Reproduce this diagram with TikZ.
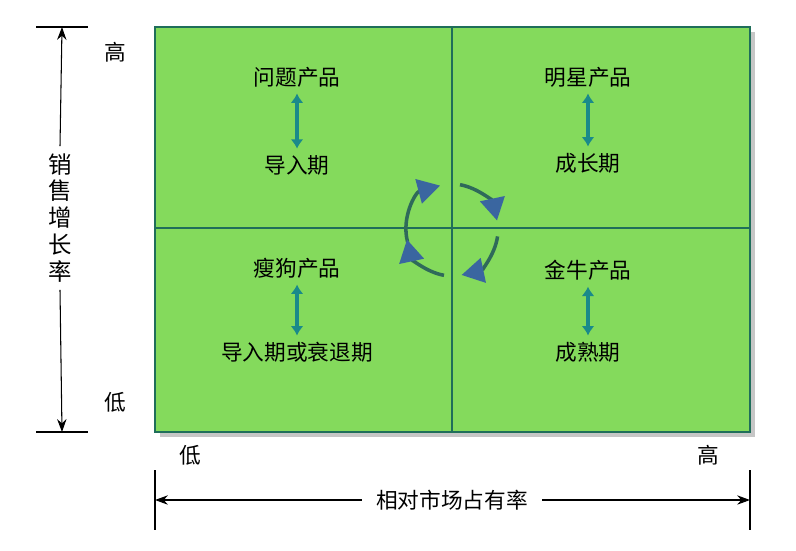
\documentclass[tikz,border=0pt]{standalone}
\usepackage{fontspec}
\newfontfamily\cjk{Noto Sans CJK SC}
\usetikzlibrary{arrows.meta,calc}
\definecolor{boxgreen}{HTML}{84DA5C}
\definecolor{boxline}{HTML}{1F6E5A}
\definecolor{cyclecol}{HTML}{2F6A5A}
\definecolor{headcol}{HTML}{3A66A0}
\definecolor{twoway}{HTML}{1A8A8A}
\tikzset{
  lbl/.style={font=\cjk\fontsize{18.5}{21}\selectfont},
  swap/.style={{Latex[length=8pt,width=11pt]}-{Latex[length=8pt,width=11pt]}, twoway, line width=3.5pt, shorten <=2pt, shorten >=2pt},
  axis/.style={-{Stealth[length=11pt,width=8pt]}, line width=0.9pt},
  cyc/.style={cyclecol, line width=3pt, -{Triangle[length=19pt,width=21pt,color=headcol]}}
}
\begin{document}
\begin{tikzpicture}[x=0.03cm,y=-0.03cm]
	\useasboundingbox (0,0) rectangle (796,550);
	%% matrix
	\fill[gray!45] (160,32) rectangle (755,437);
	\draw[boxline,fill=boxgreen,line width=1pt] (155,27) rectangle (750,432);
	\draw[boxline,line width=1.2pt] (452,27) -- (452,432);
	\draw[boxline,line width=1.2pt] (155,228) -- (750,228);
	%% quadrant texts
	\node[lbl] (q1) at (297,77) {问题产品};
	\node[lbl] (q1b) at (297,165) {导入期};
	\node[lbl] (q2) at (588,77) {明星产品};
	\node[lbl] (q2b) at (588,163) {成长期};
	\node[lbl] (q3) at (297,268) {瘦狗产品};
	\node[lbl] (q3b) at (297,352) {导入期或衰退期};
	\node[lbl] (q4) at (588,270) {金牛产品};
	\node[lbl] (q4b) at (588,352) {成熟期};
	\foreach \a/\b in {q1/q1b,q2/q2b,q3/q3b,q4/q4b}
		\draw[swap] (\a.south) -- (\b.north);
	%% cycle
	\coordinate (c) at (452,230);
	\foreach \s/\e in {195/105,80/12,-8/-78,-100/-168}
		\draw[cyc] ($(c)+(\s:46 and -46)$) arc[start angle=\s,end angle=\e,radius=1.38cm];
	%% vertical axis
	\node[lbl] (yh) at (115,52) {高};
	\node[lbl] (yl) at (115,402) {低};
	\node[lbl,align=center,inner sep=6pt,font=\cjk\fontsize{20}{23}\selectfont] (ylab) at (60,218) {销\\售\\增\\长\\率};
	\coordinate (ytop) at (62,27);
	\coordinate (ybot) at (62,432);
	\draw[line width=0.9pt] (36,27) -- (88,27);
	\draw[line width=0.9pt] (36,432) -- (88,432);
	\draw[axis] (ylab.north) -- (ytop);
	\draw[axis] (ylab.south) -- (ybot);
	%% horizontal axis
	\node[lbl] (xl) at (190,455) {低};
	\node[lbl] (xh) at (708,455) {高};
	\node[lbl,inner sep=12pt] (xlab) at (452,500) {相对市场占有率};
	\coordinate (xleft) at (155,500);
	\coordinate (xright) at (750,500);
	\draw[line width=0.9pt] (155,470) -- (155,530);
	\draw[line width=0.9pt] (750,470) -- (750,530);
	\draw[axis] (xlab.west) -- (xleft);
	\draw[axis] (xlab.east) -- (xright);
\end{tikzpicture}
\end{document}
